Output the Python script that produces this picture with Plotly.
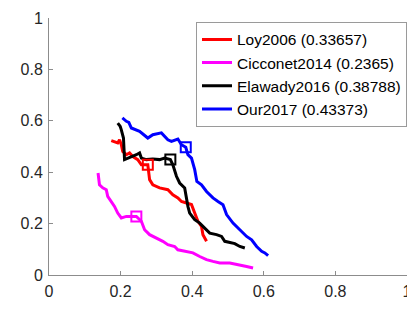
import plotly.graph_objects as go

# precision / recall curves
loy_x = [0.174, 0.183, 0.192, 0.197, 0.202, 0.206, 0.216, 0.225, 0.234, 0.248, 0.258, 0.276,
         0.281, 0.290, 0.309, 0.332, 0.346, 0.360, 0.370, 0.384, 0.398, 0.407, 0.416, 0.426,
         0.430, 0.440]
loy_y = [0.523, 0.520, 0.514, 0.526, 0.507, 0.481, 0.468, 0.475, 0.461, 0.449, 0.429, 0.429,
         0.371, 0.351, 0.339, 0.332, 0.312, 0.300, 0.286, 0.280, 0.274, 0.241, 0.209, 0.189,
         0.157, 0.131]

cic_x = [0.137, 0.141, 0.150, 0.160, 0.164, 0.174, 0.183, 0.192, 0.202, 0.216, 0.244, 0.258,
         0.267, 0.281, 0.300, 0.318, 0.332, 0.351, 0.360, 0.384, 0.402, 0.421, 0.440, 0.458,
         0.477, 0.505, 0.533, 0.552, 0.570]
cic_y = [0.397, 0.351, 0.339, 0.332, 0.306, 0.286, 0.267, 0.241, 0.222, 0.228, 0.228, 0.209,
         0.176, 0.157, 0.144, 0.131, 0.118, 0.111, 0.098, 0.092, 0.086, 0.072, 0.060, 0.053,
         0.047, 0.047, 0.040, 0.033, 0.027]

ela_x = [0.192, 0.199, 0.202, 0.208, 0.211, 0.230, 0.244, 0.253, 0.258, 0.272, 0.290, 0.309,
         0.323, 0.339, 0.346, 0.356, 0.365, 0.379, 0.384, 0.388, 0.393, 0.407, 0.421, 0.435,
         0.449, 0.468, 0.482, 0.491, 0.505, 0.519, 0.533, 0.547]
ela_y = [0.591, 0.578, 0.565, 0.533, 0.449, 0.459, 0.468, 0.475, 0.455, 0.449, 0.451, 0.449,
         0.455, 0.449, 0.429, 0.384, 0.358, 0.339, 0.293, 0.267, 0.241, 0.215, 0.202, 0.183,
         0.163, 0.157, 0.150, 0.131, 0.125, 0.122, 0.111, 0.105]

our_x = [0.205, 0.216, 0.223, 0.230, 0.253, 0.276, 0.290, 0.314, 0.332, 0.342, 0.360, 0.370,
         0.382, 0.388, 0.398, 0.407, 0.413, 0.426, 0.440, 0.458, 0.472, 0.486, 0.496, 0.505,
         0.514, 0.533, 0.552, 0.566, 0.580, 0.594, 0.603, 0.612]
our_y = [0.611, 0.598, 0.594, 0.572, 0.559, 0.533, 0.546, 0.553, 0.526, 0.520, 0.529, 0.507,
         0.497, 0.468, 0.455, 0.410, 0.364, 0.351, 0.325, 0.300, 0.286, 0.273, 0.235, 0.218,
         0.202, 0.176, 0.150, 0.137, 0.111, 0.092, 0.086, 0.075]

# square markers (best operating point)
best_x = [0.276, 0.244, 0.339, 0.382]
best_y = [0.429, 0.228, 0.449, 0.497]

names = ['Loy2006 (0.33657)', 'Cicconet2014 (0.2365)', 'Elawady2016 (0.38788)', 'Our2017 (0.43373)']
colors = ['#ff0000', '#ff00ff', '#000000', '#0000ff']
xs = [loy_x, cic_x, ela_x, our_x]
ys = [loy_y, cic_y, ela_y, our_y]

fig = go.Figure()
for x, y, name, c in zip(xs, ys, names, colors):
    fig.add_trace(go.Scatter(x=x, y=y, mode='lines', name=name,
                             line=dict(color=c, width=3)))
for bx, by, c in zip(best_x, best_y, colors):
    fig.add_trace(go.Scatter(x=[bx], y=[by], mode='markers', showlegend=False,
                             marker=dict(symbol='square-open', size=10, color=c,
                                         line=dict(color=c, width=2))))

axis_style = dict(range=[0, 1], tickvals=[0, 0.2, 0.4, 0.6, 0.8, 1],
                  ticktext=['0', '0.2', '0.4', '0.6', '0.8', '1'],
                  showgrid=False, zeroline=False, showline=True, linecolor='#8c8c8c',
                  linewidth=1, ticks='inside', ticklen=4, tickcolor='#8c8c8c',
                  automargin=False,
                  tickfont=dict(family='Liberation Sans', size=16, color='#262626'))
fig.update_xaxes(**axis_style, ticklabelstandoff=2)
fig.update_yaxes(**axis_style, ticklabelstandoff=2)

# page body adds an 8px margin, so the figure is a bit smaller than the window
fig.update_layout(
    width=407, height=313,
    margin=dict(l=41, r=8, t=10, b=46),
    plot_bgcolor='white', paper_bgcolor='white',
    legend=dict(x=1.0, y=0.985, xanchor='right', yanchor='top',
                bgcolor='white', bordercolor='#9a9a9a', borderwidth=1,
                font=dict(family='Liberation Sans', size=15.5, color='#000000'),
                tracegroupgap=0, itemwidth=30),
)

fig.write_html("out.html")
